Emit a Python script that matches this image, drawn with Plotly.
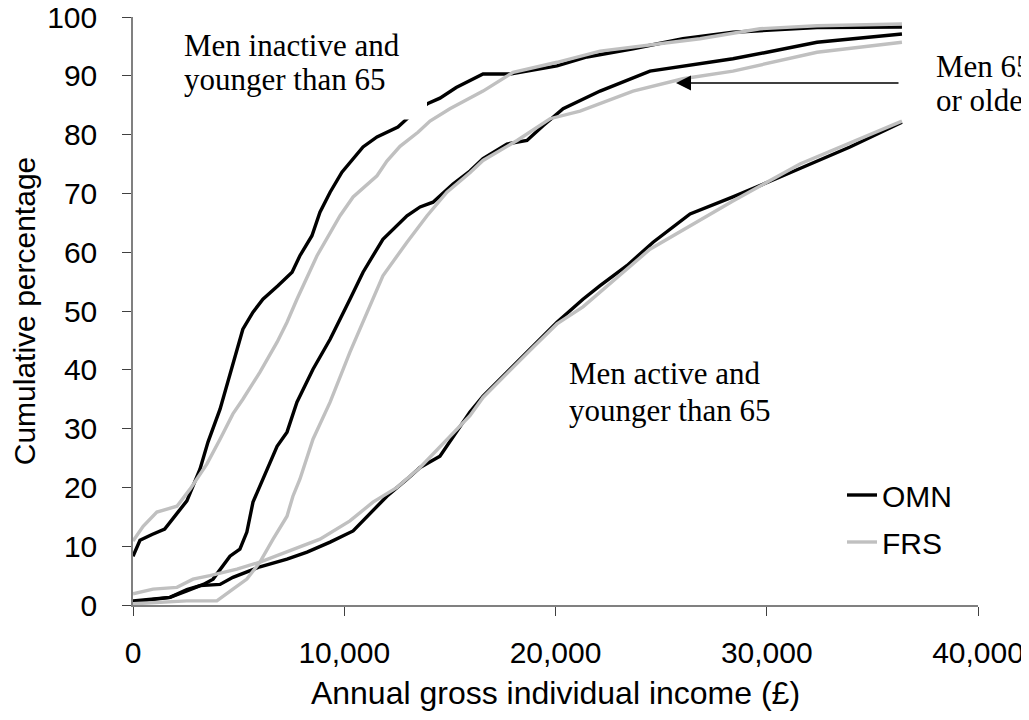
import plotly.graph_objects as go

# ---- data (annual gross individual income in £, cumulative %) ----
inactive_omn_x = [0, 330, 900, 1500, 2130, 2550, 3170, 3550, 4120, 4590, 5200, 5680, 6150, 6860, 7530, 7900,
                  8470, 8850, 9330, 9890, 10420, 10890, 11550, 12020, 12540, 12970, 13960, 14530, 15300, 16570,
                  17850, 20070, 21490, 23670, 26030, 28400, 32380, 36400]
inactive_omn_y = [8.3, 11.0, 12.0, 12.9, 15.8, 17.7, 23.1, 27.7, 33.3, 39.0, 46.9, 49.8, 52.0, 54.3, 56.6, 59.4,
                  62.8, 66.8, 70.2, 73.6, 75.9, 77.9, 79.6, 80.4, 81.3, 82.7, 85.3, 86.2, 88.0, 90.3,
                  90.3, 91.7, 93.2, 94.6, 96.3, 97.4, 98.2, 98.3]

inactive_frs_x = [0, 480, 1130, 2080, 2700, 3500, 4120, 4730, 5200, 6010, 6820, 7290, 7760, 8710, 9800, 10420,
                  11550, 12020, 12640, 13490, 14060, 15000, 16570, 17990, 20070, 22110, 26840, 29680, 32380, 36400]
inactive_frs_y = [10.9, 13.4, 15.8, 16.8, 19.7, 24.0, 28.2, 32.5, 35.0, 39.6, 44.7, 48.1, 52.0, 59.4, 66.2, 69.4,
                  73.0, 75.5, 78.0, 80.4, 82.3, 84.4, 87.4, 90.6, 92.3, 94.2, 96.3, 98.0, 98.5, 98.8]

old_omn_x = [0, 950, 1750, 2550, 3330, 3790, 4260, 4590, 5060, 5390, 5680, 6340, 6820, 7290, 7760, 8520, 9330,
             10270, 10890, 11830, 12970, 13590, 14200, 15150, 15950, 16570, 17700, 18650, 19410, 20360, 22110,
             24470, 28400, 30010, 32380, 36400]
old_omn_y = [0.5, 1.0, 1.3, 2.4, 3.5, 4.4, 6.7, 8.3, 9.5, 12.4, 17.5, 23.1, 27.0, 29.4, 34.5, 40.1, 45.2,
             52.0, 56.6, 62.2, 66.2, 67.7, 68.5, 71.6, 73.8, 75.9, 78.4, 79.0, 81.5, 84.4, 87.4,
             90.8, 92.9, 94.0, 95.7, 97.1]

old_frs_x = [0, 1750, 2550, 3970, 4260, 4730, 5390, 6010, 6630, 7290, 7570, 7900, 8520, 9330, 10270, 11080,
             11830, 12970, 13920, 14860, 15950, 16570, 18180, 19740, 21160, 23670, 26030, 28400, 32380, 36400]
old_frs_y = [0.2, 0.5, 0.7, 0.7, 1.5, 2.7, 4.4, 7.3, 11.2, 15.1, 18.5, 21.4, 28.2, 34.5, 43.0, 49.8,
             56.0, 61.7, 66.2, 70.2, 73.5, 75.6, 79.0, 82.7, 84.0, 87.4, 89.5, 90.8, 94.0, 95.7]

active_omn_x = [0, 950, 1750, 2550, 3170, 4120, 4730, 6010, 7290, 8240, 9330, 10420, 11080, 12020, 12970,
                13590, 14530, 14860, 15950, 16570, 18930, 20070, 21300, 22110, 23380, 24620, 26370, 28400,
                30770, 32380, 33940, 36400]
active_omn_y = [0.7, 1.0, 1.3, 2.6, 3.3, 3.5, 4.7, 6.5, 7.8, 9.0, 10.7, 12.6, 15.1, 18.5, 21.4,
                23.4, 25.3, 27.0, 32.8, 35.5, 44.0, 48.1, 52.0, 54.3, 57.7, 61.7, 66.5, 69.4,
                73.0, 75.5, 77.9, 82.1]

active_frs_x = [0, 950, 2080, 2840, 3640, 4920, 6010, 7290, 8850, 10270, 11360, 12500, 13590, 15950, 16570,
                18930, 20070, 21300, 24470, 28400, 31570, 36400]
active_frs_y = [1.9, 2.7, 3.0, 4.4, 5.0, 6.1, 7.3, 9.0, 11.2, 14.3, 17.5, 20.0, 23.4, 32.2, 35.3,
                43.8, 47.8, 50.7, 60.5, 68.7, 75.0, 82.3]

x_ticks = [0, 10000, 20000, 30000, 40000]
x_tick_labels = ["0", "10,000", "20,000", "30,000", "40,000"]
y_ticks = list(range(0, 101, 10))

BLACK = "#000000"
GREY = "#c0c0c0"

fig = go.Figure()

series = [
    ("OMN", inactive_omn_x, inactive_omn_y, BLACK, True),
    ("OMN", old_omn_x, old_omn_y, BLACK, False),
    ("OMN", active_omn_x, active_omn_y, BLACK, False),
    ("FRS", inactive_frs_x, inactive_frs_y, GREY, True),
    ("FRS", old_frs_x, old_frs_y, GREY, False),
    ("FRS", active_frs_x, active_frs_y, GREY, False),
]
for name, xs, ys, col, show in series:
    fig.add_trace(go.Scatter(x=xs, y=ys, mode="lines", name=name, legendgroup=name,
                             showlegend=show, line=dict(color=col, width=3.4)))

# page body has an 8px margin: figure coordinates = window coordinates - 8
OFF = 8
W, H = 1029 - OFF, 720 - OFF
PL, PR, PT, PB = 133, 978, 17, 605          # plot area in window pixels
L, R, T, B = PL - OFF, W - (PR - OFF), PT - OFF, H - (PB - OFF)
PW, PH = PR - PL, PB - PT


def px(xw):
    return (xw - PL) / PW


def py(yw):
    return (PB - yw) / PH


serif = dict(family="Liberation Serif, Times New Roman, serif", size=31, color="black")
annots = [
    ("Men inactive and", 182, 45),
    ("younger than 65", 182, 79),
    ("Men active and", 567, 373),
    ("younger than 65", 567, 410),
    ("Men 65", 934, 67),
    ("or older", 934, 100),
]
for txt, xx, yy in annots:
    fig.add_annotation(text=txt, x=px(xx), y=py(yy), xref="paper", yref="paper",
                       xanchor="left", yanchor="middle", showarrow=False, font=serif)

# arrow pointing to "Men 65 or older" curves
fig.add_annotation(text="", x=px(676), y=py(83), xref="paper", yref="paper",
                   showarrow=True, ax=224, ay=0, axref="pixel", ayref="pixel",
                   arrowhead=2, arrowsize=2, arrowwidth=1.5, arrowcolor="black")

# white text box that masks part of the top curve
fig.add_shape(type="rect", xref="paper", yref="paper", x0=px(176), x1=px(427), y0=py(119.5), y1=py(22),
              fillcolor="white", line=dict(width=0), layer="above")

sans = "Liberation Sans, Arial, sans-serif"
fig.update_layout(
    width=W, height=H,
    margin=dict(l=L, r=R, t=T, b=B, autoexpand=False),
    paper_bgcolor="white", plot_bgcolor="white",
    font=dict(family=sans, color="black"),
    legend=dict(x=px(842), y=py(469), xanchor="left", yanchor="top",
                font=dict(family=sans, size=30, color="black"),
                bgcolor="rgba(0,0,0,0)", traceorder="grouped", tracegroupgap=5),
    xaxis=dict(range=[0, 40000], tickvals=x_ticks, ticktext=x_tick_labels, automargin=False,
               ticklabeloverflow="allow",
               showgrid=False, zeroline=False, showline=True, linecolor="#808080", linewidth=1.5,
               ticks="outside", ticklen=9, tickcolor="#404040", tickwidth=1.2,
               tickfont=dict(family=sans, size=30, color="black"), ticklabelstandoff=11,
               title=dict(text="Annual gross individual income (£)",
                          font=dict(family=sans, size=32, color="black"), standoff=14)),
    yaxis=dict(range=[0, 100], tickvals=y_ticks, automargin=False,
               ticklabeloverflow="allow",
               showgrid=False, zeroline=False, showline=True, linecolor="#808080", linewidth=1.5,
               ticks="outside", ticklen=9, tickcolor="#404040", tickwidth=1.2,
               tickfont=dict(family=sans, size=30, color="black"), ticklabelstandoff=19,
               title=dict(text="Cumulative percentage",
                          font=dict(family=sans, size=30, color="black"), standoff=7)),
)

fig.write_html("out.html")
